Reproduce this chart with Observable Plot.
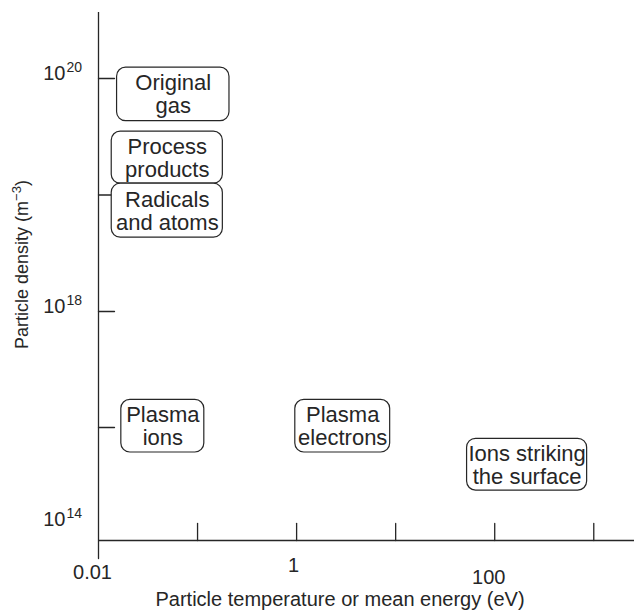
<!DOCTYPE html>
<html>
<head>
<meta charset="utf-8">
<script src="https://cdn.jsdelivr.net/npm/d3@7"></script>
<script src="https://cdn.jsdelivr.net/npm/@observablehq/plot@0.6"></script>
<style>
  body { margin: 0; background: #fff; }
  #chart svg { font-family: "Liberation Sans", Arial, Helvetica, sans-serif; background: #fff; }
</style>
</head>
<body>
<div id="chart"></div>
<script>
// ---- data ----
const species = ["Original\ngas", "Process\nproducts", "Radicals\nand atoms", "Plasma\nions", "Plasma\nelectrons", "Ions striking\nthe surface"];
const energyLow  = [0.0154, 0.0136, 0.0136, 0.0170, 0.97, 52.6];   // eV
const energyHigh = [0.21,   0.18,   0.18,   0.117,  8.8,  857];    // eV
const densityLow  = [4.3e19, 1.25e19, 4.3e18,  3.05e15, 3.05e15, 5.0e14];  // m^-3
const densityHigh = [1.24e20, 3.5e19, 1.25e19, 3.0e16,  3.0e16,  5.85e15]; // m^-3

const xTicks = [0.01, 0.1, 1, 10, 100, 1000];
const xTickLabels = [0.01, 1, 100];
const yTicks = [1e16, 1e18, 1e19, 1e20];
const yTickLabels = [1e14, 1e18, 1e20];
const xTitle = "Particle temperature or mean energy (eV)";
const yTitleBase = "Particle density (m";
const yTitleSup = "\u22123";
const yTitleEnd = ")";

// ---- scales (the reference's density axis is drawn piecewise) ----
const xDomain = [0.01, 2577];
const yDomain = [4.7e13, 1e14, 1e16, 1e18, 1e20, 3.7e20];
const yRange  = [540, 524, 427, 311, 78, 12];

const ink = "#262626";
const idx = species.map((_, i) => i);
const yScale = Plot.scale({y: {type: "log", domain: yDomain, range: yRange}});
const yMid = i => yScale.invert((yScale.apply(densityLow[i]) + yScale.apply(densityHigh[i])) / 2);
const xMid = i => Math.sqrt(energyLow[i] * energyHigh[i]);

const tickShape = {draw(context, l) { context.moveTo(0, 0); context.lineTo(0, -l); }};
const xLabelOffset = {0.01: [-6, 38], 1: [-3, 31], 100: [-6, 43]};

const marks = [
  // axis lines
  Plot.ruleY([yDomain[0]], {stroke: ink, strokeWidth: 1.3}),
  Plot.ruleX([xTicks[0]], {stroke: ink, strokeWidth: 1.3}),
  Plot.vector([xTicks[0]], {x: d => d, y: yDomain[0], length: 18, rotate: 180, anchor: "start", shape: tickShape, stroke: ink, strokeWidth: 1.3}),
  // ticks (drawn inward)
  Plot.vector(xTicks.slice(1), {x: d => d, y: yDomain[0], length: 17, rotate: 0, anchor: "start", shape: tickShape, stroke: ink, strokeWidth: 1.3}),
  Plot.vector(yTicks, {x: xTicks[0], y: d => d, length: 16, rotate: 90, anchor: "start", shape: tickShape, stroke: ink, strokeWidth: 1.3}),
  // y tick labels: 10 with exponent
  Plot.text(yTickLabels, {x: xTicks[0], y: d => d, text: () => "10", textAnchor: "end", lineAnchor: "bottom", dx: -33, dy: 1.5, fontSize: 20, fill: ink}),
  Plot.text(yTickLabels, {x: xTicks[0], y: d => d, text: d => String(Math.round(Math.log10(d))), textAnchor: "start", lineAnchor: "bottom", dx: -32, dy: -6.5, fontSize: 14, fill: ink}),
  // x tick labels
  ...xTickLabels.map(v => Plot.text([v], {x: d => d, y: yDomain[0], text: d => String(d), textAnchor: "middle", lineAnchor: "bottom", dx: xLabelOffset[v][0], dy: xLabelOffset[v][1], fontSize: 20, fill: ink})),
  // axis titles
  Plot.text([xTitle], {frameAnchor: "bottom-left", text: d => d, textAnchor: "start", lineAnchor: "bottom", dx: 57, dy: 65, fontSize: 20, fill: ink}),
  Plot.text([yTitleBase + yTitleSup + yTitleEnd], {frameAnchor: "left", text: d => d, rotate: -90, textAnchor: "middle", lineAnchor: "bottom", dx: -71, dy: -12, fontSize: 18, fill: ink}),
  // boxes
  Plot.rect(idx, {x1: i => energyLow[i], x2: i => energyHigh[i], y1: i => densityLow[i], y2: i => densityHigh[i], rx: 9, fill: "white", stroke: ink, strokeWidth: 1.2}),
  Plot.text(idx, {x: xMid, y: yMid, text: i => species[i], fontSize: 22, lineHeight: 1.05, fill: ink})
];

const chart = Plot.plot({
  width: 634,
  height: 611,
  marginLeft: 98,
  marginRight: 0,
  marginTop: 12,
  marginBottom: 71,
  x: {type: "log", domain: xDomain, axis: null},
  y: {type: "log", domain: yDomain, range: yRange, axis: null},
  marks
});
document.getElementById("chart").appendChild(chart);

// superscript in the y title
chart.querySelectorAll("text").forEach(t => {
  if (t.textContent === yTitleBase + yTitleSup + yTitleEnd) {
    t.textContent = "";
    t.appendChild(document.createTextNode(yTitleBase));
    const sup = document.createElementNS("http://www.w3.org/2000/svg", "tspan");
    sup.setAttribute("dy", "-7");
    sup.setAttribute("font-size", "13");
    sup.textContent = yTitleSup;
    t.appendChild(sup);
    const end = document.createElementNS("http://www.w3.org/2000/svg", "tspan");
    end.setAttribute("dy", "7");
    end.textContent = yTitleEnd;
    t.appendChild(end);
  }
});
</script>
</body>
</html>
